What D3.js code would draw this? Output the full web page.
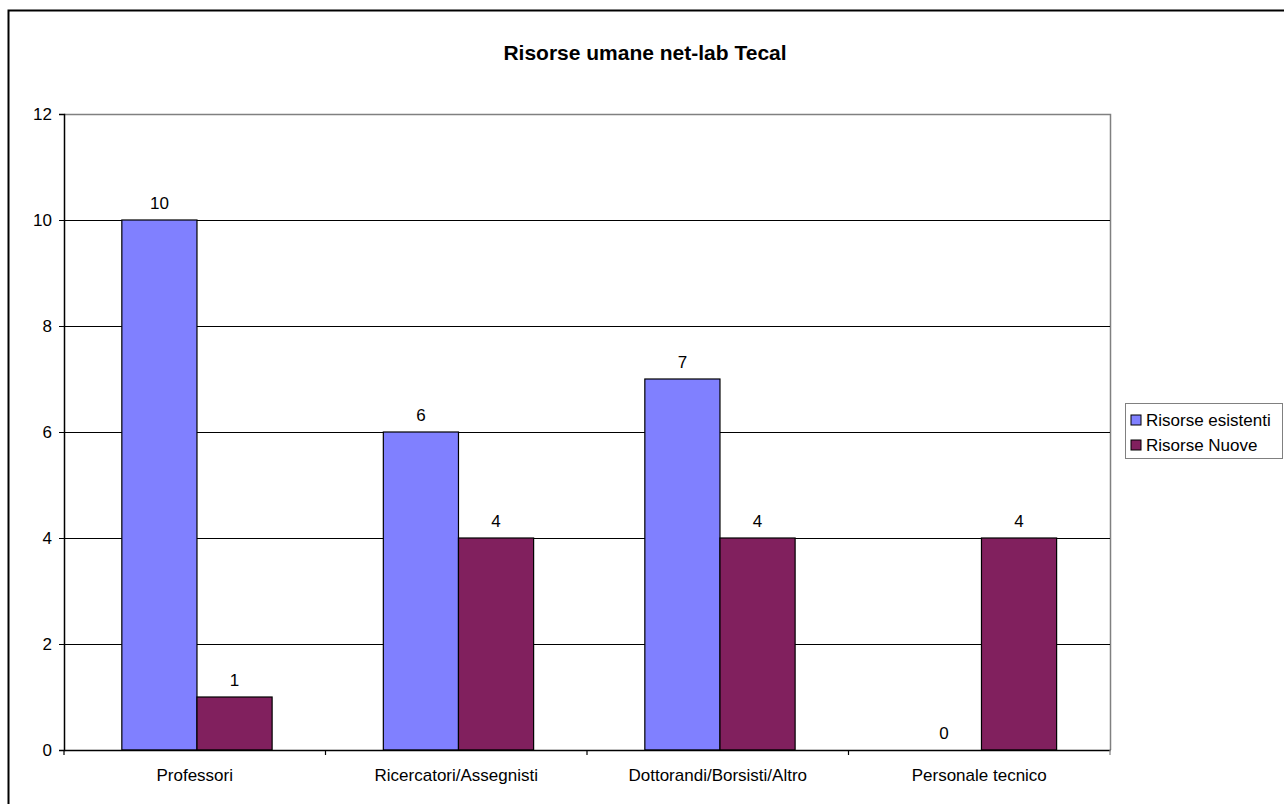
<!DOCTYPE html>
<html>
<head>
<meta charset="utf-8">
<script src="https://cdn.jsdelivr.net/npm/d3@7"></script>
<style>
  body { margin: 0; background: #fff; }
  svg text { font-family: "Liberation Sans", Arial, sans-serif; fill: #000; }
</style>
</head>
<body>
<div class="svg_container"></div>
<script>
var categories = ["Professori", "Ricercatori/Assegnisti", "Dottorandi/Borsisti/Altro", "Personale tecnico"];
var seriesNames = ["Risorse esistenti", "Risorse Nuove"];
var esistenti = [10, 6, 7, 0];
var nuove = [1, 4, 4, 4];
var yTicks = [0, 2, 4, 6, 8, 10, 12];
var colors = ["#8080FF", "#81205E"];

const WIDTH = 1284;
const HEIGHT = 804;
const PLOT = {left: 64, top: 114, right: 1110, bottom: 750};
const FONT = 17;

var translate = function (x, y) {
    return "translate(" + x + "," + y + ")";
};

var svg = d3.select('.svg_container').append('svg')
    .attr('width', WIDTH)
    .attr('height', HEIGHT);

// outer chart frame (continues past the window edge)
svg.append('rect')
    .attr('x', 8.5).attr('y', 10.5)
    .attr('width', 1300).attr('height', 900)
    .attr('fill', 'none').attr('stroke', '#000').attr('stroke-width', 2);

var xScale = d3.scaleBand()
    .domain(categories)
    .range([PLOT.left, PLOT.right]);

var innerScale = d3.scaleBand()
    .domain(seriesNames)
    .range([0, xScale.bandwidth()])
    .paddingInner(0)
    .paddingOuter(0.74)
    .align(0.52);

var yScale = d3.scaleLinear()
    .domain([0, 12])
    .range([PLOT.bottom, PLOT.top]);

// plot border (top and right, grey)
svg.append('path')
    .attr('d', 'M' + PLOT.left + ',' + (PLOT.top + 0.5) + 'H' + (PLOT.right + 0.5) + 'V' + PLOT.bottom)
    .attr('fill', 'none').attr('stroke', '#808080').attr('stroke-width', 1.5);

// gridlines
svg.append('g').selectAll('line')
    .data(yTicks.filter(function (d) { return d > 0 && d < 12; }))
    .enter().append('line')
    .attr('x1', PLOT.left).attr('x2', PLOT.right)
    .attr('y1', function (d) { return yScale(d) + 0.5; })
    .attr('y2', function (d) { return yScale(d) + 0.5; })
    .attr('stroke', '#000').attr('stroke-width', 1);

// bars
var data = categories.map(function (c, i) {
    return {cat: c, values: [esistenti[i], nuove[i]]};
});

var groups = svg.append('g').selectAll('g')
    .data(data).enter().append('g')
    .attr('transform', function (d) { return translate(xScale(d.cat), 0); });

groups.selectAll('rect')
    .data(function (d) {
        return d.values.map(function (v, j) { return {name: seriesNames[j], value: v, idx: j}; });
    })
    .enter().append('rect')
    .filter(function (d) { return d.value > 0; })
    .attr('x', function (d) { return innerScale(d.name); })
    .attr('y', function (d) { return yScale(d.value); })
    .attr('width', innerScale.bandwidth())
    .attr('height', function (d) { return yScale(0) - yScale(d.value); })
    .attr('fill', function (d) { return colors[d.idx]; })
    .attr('stroke', '#000').attr('stroke-width', 1.2);

groups.selectAll('text.val')
    .data(function (d) {
        return d.values.map(function (v, j) { return {name: seriesNames[j], value: v}; });
    })
    .enter().append('text')
    .attr('class', 'val')
    .attr('x', function (d) { return innerScale(d.name) + innerScale.bandwidth() / 2; })
    .attr('y', function (d) { return yScale(d.value) - 11; })
    .attr('text-anchor', 'middle')
    .attr('font-size', FONT)
    .text(function (d) { return d.value; });

// y axis
var yAxis = d3.axisLeft(yScale).tickValues(yTicks).tickSize(5).tickPadding(7);
var gy = svg.append('g')
    .attr('transform', translate(PLOT.left, 0))
    .call(yAxis);
gy.select('.domain').attr('stroke', '#000').attr('stroke-width', 1.5);
gy.selectAll('.tick line').attr('stroke', '#000');
gy.selectAll('.tick text').attr('font-size', FONT).attr('font-family', '"Liberation Sans", Arial, sans-serif');

// x axis
var xAxis = d3.axisBottom(xScale).tickSize(0).tickPadding(19);
var gx = svg.append('g')
    .attr('transform', translate(0, PLOT.bottom))
    .call(xAxis);
gx.select('.domain').attr('stroke', '#000').attr('stroke-width', 1.5);
gx.selectAll('.tick text').attr('font-size', FONT).attr('font-family', '"Liberation Sans", Arial, sans-serif');
gx.selectAll('line.sep')
    .data(categories.concat(['end']))
    .enter().append('line')
    .attr('class', 'sep')
    .attr('x1', function (d, i) { return PLOT.left + i * xScale.step(); })
    .attr('x2', function (d, i) { return PLOT.left + i * xScale.step(); })
    .attr('y1', 0).attr('y2', 5)
    .attr('stroke', function (d, i) { return i === categories.length ? '#808080' : '#000'; })
    .attr('stroke-width', 1.2);

// title
svg.append('text')
    .attr('x', 645).attr('y', 60)
    .attr('text-anchor', 'middle')
    .attr('font-size', 21).attr('font-weight', 'bold')
    .text('Risorse umane net-lab Tecal');

// legend
var legend = svg.append('g').attr('transform', translate(1125, 403));
legend.append('rect')
    .attr('x', 0.5).attr('y', 0.5)
    .attr('width', 157).attr('height', 55)
    .attr('fill', '#fff').attr('stroke', '#808080').attr('stroke-width', 1);

var items = legend.selectAll('g.item')
    .data(seriesNames).enter().append('g')
    .attr('class', 'item')
    .attr('transform', function (d, i) { return translate(6, 12 + i * 25); });

items.append('rect')
    .attr('width', 10).attr('height', 10)
    .attr('fill', function (d, i) { return colors[i]; })
    .attr('stroke', '#000').attr('stroke-width', 1);

items.append('text')
    .attr('x', 15).attr('y', 11)
    .attr('font-size', FONT)
    .text(function (d) { return d; });
</script>
</body>
</html>
